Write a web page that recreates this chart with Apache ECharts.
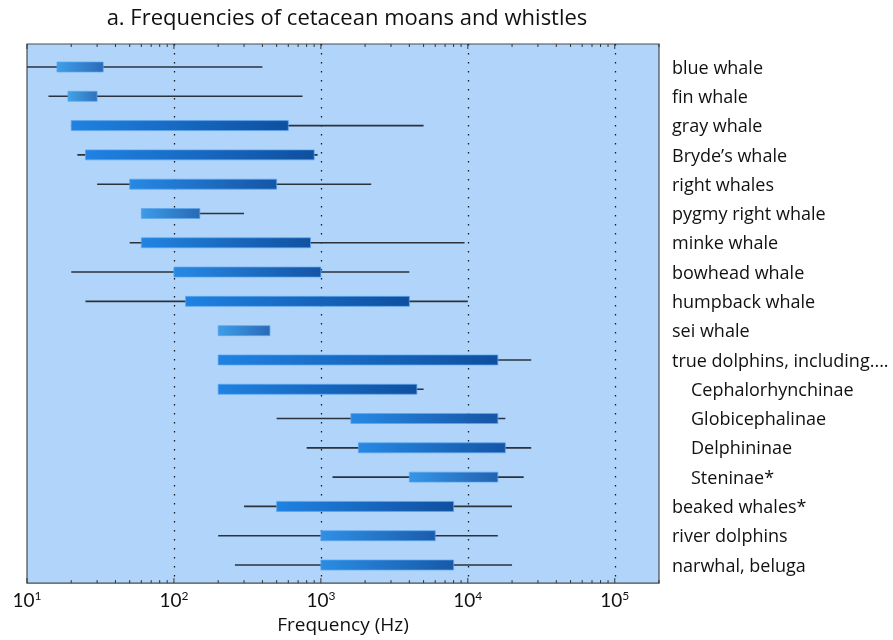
<!DOCTYPE html>
<html>
<head>
<meta charset="utf-8">
<script src="https://cdn.jsdelivr.net/npm/echarts@6/dist/echarts.min.js"></script>
<style>
html,body{margin:0;padding:0;background:#fff;}
#chart{width:893px;height:640px;}
</style>
</head>
<body>
<div id="chart"></div>
<script>
const categories = ['blue whale','fin whale','gray whale','Bryde\u2019s whale','right whales','pygmy right whale','minke whale','bowhead whale','humpback whale','sei whale','true dolphins, including....','Cephalorhynchinae','Globicephalinae','Delphininae','Steninae*','beaked whales*','river dolphins','narwhal, beluga'];
const indented = ['Cephalorhynchinae','Globicephalinae','Delphininae','Steninae*'];
const whiskerLow  = [10, 14, 20, 22, 30, 60, 50, 20, 25, 200, 200, 200, 500, 800, 1200, 300, 200, 260];
const boxLow      = [16, 19, 20, 25, 50, 60, 60, 100, 120, 200, 200, 200, 1600, 1800, 4000, 500, 1000, 1000];
const boxHigh     = [33, 30, 600, 900, 500, 150, 850, 1000, 4000, 450, 16000, 4500, 16000, 18000, 16000, 8000, 6000, 8000];
const whiskerHigh = [400, 750, 5000, 950, 2200, 300, 9500, 4000, 10000, 450, 27000, 5000, 18000, 27000, 24000, 20000, 16000, 20000];
const decades = [10, 100, 1000, 10000, 100000];
const minorMultipliers = [2, 3, 4, 5, 6, 7, 8, 9];
const xMin = 10, xMax = 200000;

const FONT = 'Open Sans';

const barData = categories.map((c, i) => [i, whiskerLow[i], boxLow[i], boxHigh[i], whiskerHigh[i]]);
const tickData = [];
decades.forEach(d => {
  tickData.push([d, 5]);
  minorMultipliers.forEach(m => { if (d * m <= xMax) tickData.push([d * m, 3]); });
});

function hex(c){return [parseInt(c.slice(1,3),16),parseInt(c.slice(3,5),16),parseInt(c.slice(5,7),16)];}
function mix(a,b,t){const A=hex(a),B=hex(b);return 'rgb('+A.map((v,k)=>Math.round(v+(B[k]-v)*t)).join(',')+')';}

const chart = echarts.init(document.getElementById('chart'), null, {renderer:'canvas'});
chart.setOption({
  backgroundColor: '#ffffff',
  animation: false,
  title: {
    text: 'a. Frequencies of cetacean moans and whistles',
    left: 342, top: 3, textAlign: 'center',
    textStyle: {fontFamily: FONT, fontSize: 22, fontWeight: 'normal', color: '#111'}
  },
  grid: [
    {left: 27, right: 234, top: 52.35, bottom: 60.35, show: false},
    {left: 27, right: 234, top: 44, bottom: 54, show: true, backgroundColor: '#b1d4fa', borderColor: '#4a4a4a', borderWidth: 1.2, z: 0}
  ],
  xAxis: [
    {type: 'log', gridIndex: 0, min: xMin, max: xMax, show: false},
    {type: 'log', gridIndex: 1, min: xMin, max: xMax,
     axisLine: {show: false}, axisTick: {show: false},
     splitLine: {show: true, showMinLine: false, showMaxLine: false, lineStyle: {color: '#1a1a1a', width: 1.3, type: [1.5, 7.5]}},
     axisLabel: {show: true, margin: 7, showMaxLabel: false, showMinLabel: true,
       fontFamily: 'Lato', fontSize: 19, color: '#111', lineHeight: 21,
       formatter: v => '10{s|' + Math.round(Math.log10(v)) + '}',
       rich: {s: {fontFamily: 'Lato', fontSize: 12, verticalAlign: 'top', lineHeight: 21, color: '#111'}}},
     name: 'Frequency (Hz)', nameLocation: 'middle', nameGap: 32,
     nameTextStyle: {fontFamily: FONT, fontSize: 19, color: '#111'}}
  ],
  yAxis: [
    {type: 'category', gridIndex: 0, data: categories, inverse: true, position: 'right',
     axisLine: {show: false}, axisTick: {show: false}, splitLine: {show: false},
     axisLabel: {margin: 13, align: 'left', fontFamily: FONT, fontSize: 18, color: '#111', padding: [3, 0, 0, 0],
       formatter: v => indented.indexOf(v) >= 0 ? '{sub|' + v + '}' : v,
       rich: {sub: {fontFamily: FONT, fontSize: 18, color: '#111', padding: [0, 0, 0, 19]}}}},
    {type: 'value', gridIndex: 1, min: 0, max: 1, show: false}
  ],
  series: [
    {
      type: 'custom', xAxisIndex: 1, yAxisIndex: 1, z: 3, silent: true,
      data: tickData,
      renderItem: function(params, api){
        const x = api.coord([api.value(0), 0])[0];
        const cs = params.coordSys;
        const len = api.value(1);
        return {type: 'group', children: [
          {type: 'line', shape: {x1: x, y1: cs.y, x2: x, y2: cs.y + len}, style: {stroke: '#333', lineWidth: 1}},
          {type: 'line', shape: {x1: x, y1: cs.y + cs.height, x2: x, y2: cs.y + cs.height - len}, style: {stroke: '#333', lineWidth: 1}}
        ]};
      }
    },
    {
      type: 'custom', xAxisIndex: 0, yAxisIndex: 0, z: 4, silent: true,
      data: barData,
      encode: {x: [1, 2, 3, 4], y: 0},
      renderItem: function(params, api){
        const idx = api.value(0);
        const wl = api.coord([api.value(1), idx]);
        const bl = api.coord([api.value(2), idx]);
        const bh = api.coord([api.value(3), idx]);
        const wh = api.coord([api.value(4), idx]);
        const band = api.size([0, 1])[1];
        const h = band * 0.34;
        const y = bl[1];
        const lenDec = Math.log10(api.value(3)) - Math.log10(api.value(2));
        const t = Math.max(0, Math.min(1, (lenDec - 0.2) / 1.0));
        const cLeft = mix('#44a3ea', '#1f82e2', t);
        const cRight = mix('#2e6fbb', '#0f4f9f', t);
        const children = [];
        if (wh[0] > wl[0] + 0.5) {
          children.push({type: 'line', shape: {x1: wl[0], y1: y, x2: wh[0], y2: y}, style: {stroke: '#2a333d', lineWidth: 1.6}});
        }
        children.push({type: 'rect', shape: {x: bl[0], y: y - h / 2, width: bh[0] - bl[0], height: h},
          style: {fill: new echarts.graphic.LinearGradient(0, 0, 1, 0, [{offset: 0, color: cLeft}, {offset: 1, color: cRight}]),
                  stroke: 'rgba(90,165,240,0.7)', lineWidth: 1}});
        return {type: 'group', children: children};
      }
    }
  ]
});
</script>
</body>
</html>
